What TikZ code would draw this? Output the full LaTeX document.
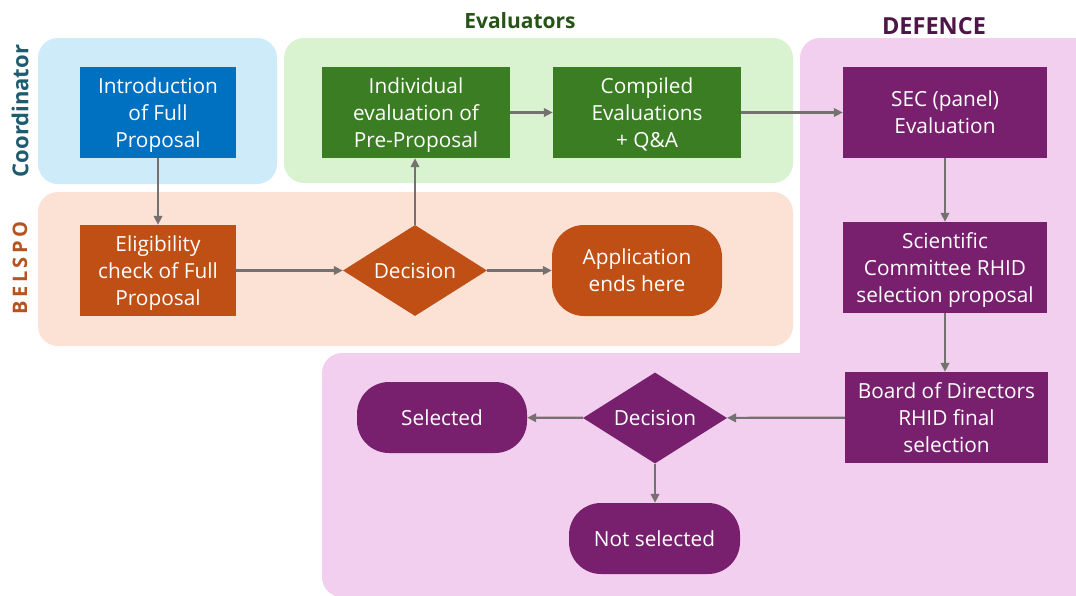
\documentclass[tikz,border=0pt]{standalone}
\usepackage{fontspec}
\setmainfont{Open Sans}
\usetikzlibrary{shapes.geometric,arrows.meta}
\definecolor{laneBlue}{HTML}{CDEBF9}
\definecolor{laneGreen}{HTML}{D9F2D0}
\definecolor{lanePeach}{HTML}{FBE2D5}
\definecolor{lanePink}{HTML}{F2CEEF}
\definecolor{boxBlue}{HTML}{0070C0}
\definecolor{boxGreen}{HTML}{3B7D23}
\definecolor{boxOrange}{HTML}{C04F15}
\definecolor{boxPurple}{HTML}{78206E}
\definecolor{arrGray}{HTML}{767171}
\definecolor{txtTeal}{HTML}{1F5B6E}
\definecolor{txtBrown}{HTML}{B55420}
\definecolor{txtGreen}{HTML}{275317}
\definecolor{txtPurple}{HTML}{4E1548}
\begin{document}
\begin{tikzpicture}[x=1pt,y=-1pt,
  lane/.style={rounded corners=20pt},
  box/.style={draw=none,text=white,align=center,inner sep=0pt,
    font=\fontsize{20.8}{27}\selectfont,minimum height=91pt,text depth=0pt},
  pill/.style={box,rounded corners=32pt},
  dec/.style={box,diamond,minimum width=144pt,minimum height=91pt},
  arr/.style={draw=arrGray,line width=2.2pt,-{Triangle[length=9pt,width=8.5pt]}},
  lanelbl/.style={font=\fontsize{22}{24}\selectfont\bfseries}
]
\useasboundingbox (0,0) rectangle (1076,595);
% lanes
\fill[laneBlue,lane] (38,38) rectangle (277,184);
\fill[laneGreen,lane] (284,38) rectangle (793,183);
\fill[lanePeach,lane] (38,192) rectangle (793,346);
\begin{scope}
\clip (0,0) rectangle (1076,595);
\fill[lanePink,lane] (800,38) rectangle (1100,380);
\fill[lanePink,lane] (322,353) rectangle (1100,597);
\end{scope}
% lane labels
\node[lanelbl,text=txtTeal,rotate=90] (lc) at (20,111) {Coordinator};
\node[lanelbl,text=txtBrown,rotate=90,font=\fontsize{20}{22}\selectfont\bfseries] (lb) at (20,268) {B\,E\,L\,S\,P\,O};
\node[lanelbl,text=txtGreen,font=\fontsize{21}{24}\selectfont\bfseries] (le) at (520,21) {Evaluators};
\node[lanelbl,text=txtPurple,font=\fontsize{23.5}{26}\selectfont\bfseries] (ld) at (934,26) {DEFENCE};
% nodes
\node[box,fill=boxBlue,minimum width=156pt] (intro) at (158,112.5) {Introduction\\of Full\\Proposal};
\node[box,fill=boxGreen,minimum width=188pt] (indiv) at (416,112.5) {Individual\\evaluation of\\Pre-Proposal};
\node[box,fill=boxGreen,minimum width=188pt] (comp) at (647,112.5) {Compiled\\Evaluations\\+ Q\&A};
\node[box,fill=boxPurple,minimum width=204pt] (sec) at (945,112.5) {SEC (panel)\\Evaluation};
\node[box,fill=boxPurple,minimum width=204pt] (sci) at (945,267.5) {Scientific\\Committee RHID\\selection proposal};
\node[box,fill=boxPurple,minimum width=203pt] (board) at (946.5,417.5) {Board of Directors\\RHID final\\selection};
\node[box,fill=boxOrange,minimum width=156pt] (elig) at (158,270.5) {Eligibility\\check of Full\\Proposal};
\node[dec,fill=boxOrange] (d1) at (415,270.5) {\makebox[0pt]{Decision}};
\node[pill,fill=boxOrange,minimum width=170pt] (app) at (637,270.5) {Application\\ends here};
\node[dec,fill=boxPurple] (d2) at (655,418) {\makebox[0pt]{Decision}};
\node[pill,fill=boxPurple,minimum width=170pt,minimum height=71pt] (sel) at (442,417.5) {Selected};
\node[pill,fill=boxPurple,minimum width=171pt,minimum height=71pt] (nsel) at (654.5,538.5) {Not selected};
% connectors
\draw[arr] (intro) -- (elig);
\draw[arr] (elig) -- (d1);
\draw[arr] (d1) -- (app);
\draw[arr] (d1.north) -- (d1.north |- indiv.south);
\draw[arr] (indiv) -- (comp);
\draw[arr] (comp) -- (sec);
\draw[arr] (sec) -- (sci);
\draw[arr] (sci.south) -- (sci.south |- board.north);
\draw[arr] (board) -- (d2);
\draw[arr] (d2) -- (sel);
\draw[arr] (d2.south) -- (d2.south |- nsel.north);
\end{tikzpicture}
\end{document}
